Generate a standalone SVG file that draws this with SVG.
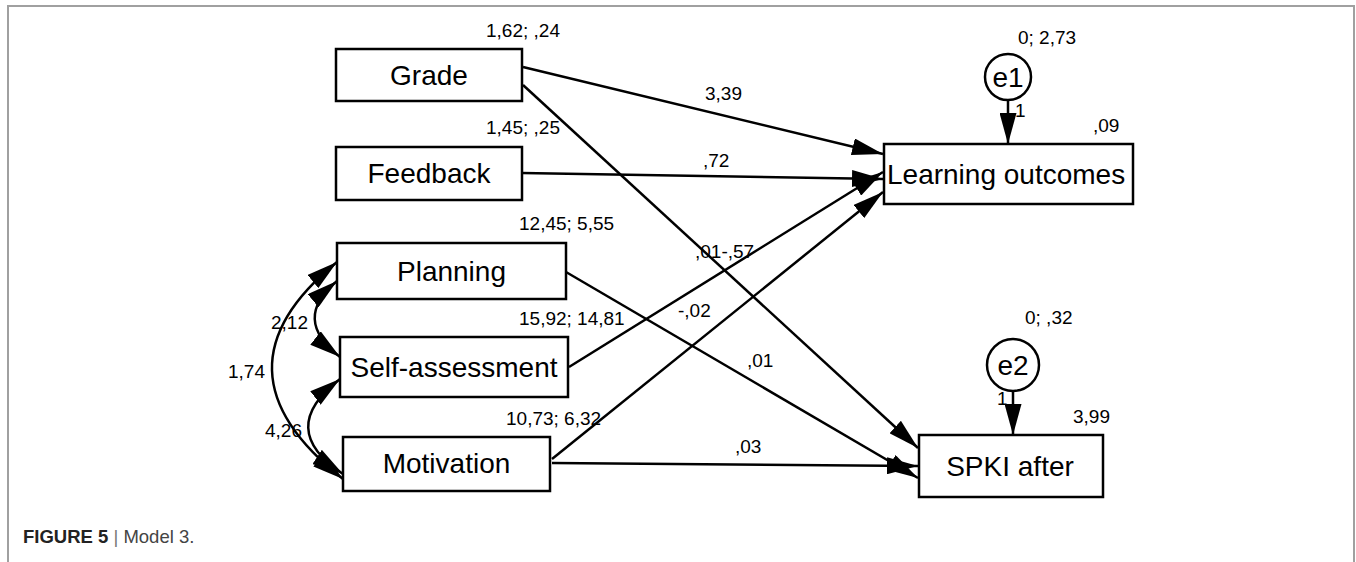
<svg xmlns="http://www.w3.org/2000/svg" width="1356" height="562" viewBox="0 0 1356 562">
<style>
.box{fill:#fff;stroke:#000;stroke-width:2.5}
.circ{fill:#fff;stroke:#000;stroke-width:2.5}
.nt{font-family:"Liberation Sans",Arial,sans-serif;font-size:28px;fill:#000}
.lb{font-family:"Liberation Sans",Arial,sans-serif;font-size:19px;fill:#000}
.ln{fill:none;stroke:#000;stroke-width:2.5}
.cap{font-family:"Liberation Sans",Arial,sans-serif;font-size:18.5px;fill:#222}
</style>
<defs>
<marker id="ah" markerUnits="userSpaceOnUse" markerWidth="31" markerHeight="17" refX="31" refY="8.5" orient="auto-start-reverse" viewBox="0 0 31 17">
<path d="M0,0 L31,8.5 L0,17 z" fill="#000"/>
</marker>
</defs>
<rect x="0" y="0" width="1356" height="562" fill="#fff"/>
<rect x="8" y="6" width="1346" height="600" fill="none" stroke="#a0a0a0" stroke-width="2"/>

<g id="connectors">
<line class="ln" x1="523" y1="67" x2="883" y2="154" marker-end="url(#ah)"/>
<line class="ln" x1="523" y1="85" x2="918" y2="448" marker-end="url(#ah)"/>
<line class="ln" x1="522" y1="173" x2="883" y2="179" marker-end="url(#ah)"/>
<line class="ln" x1="569" y1="367" x2="883" y2="172" marker-end="url(#ah)"/>
<line class="ln" x1="552" y1="459" x2="883" y2="192" marker-end="url(#ah)"/>
<line class="ln" x1="566" y1="272" x2="918" y2="478" marker-end="url(#ah)"/>
<line class="ln" x1="552" y1="463" x2="918" y2="466" marker-end="url(#ah)"/>
<line class="ln" x1="1008" y1="100" x2="1008" y2="144" marker-end="url(#ah)"/>
<line class="ln" x1="1013" y1="390" x2="1013" y2="435" marker-end="url(#ah)"/>
<path class="ln" d="M337,281 Q291,319 340,357" marker-start="url(#ah)" marker-end="url(#ah)"/>
<path class="ln" d="M337,262 Q204,370 343,479" marker-start="url(#ah)" marker-end="url(#ah)"/>
<path class="ln" d="M340,379 Q275,429 343,474" marker-start="url(#ah)" marker-end="url(#ah)"/>
</g>

<g id="labels">
<text class="lb" x="486" y="37">1,62; ,24</text>
<text class="lb" x="486" y="134">1,45; ,25</text>
<text class="lb" x="519" y="230">12,45; 5,55</text>
<text class="lb" x="519" y="325">15,92; 14,81</text>
<text class="lb" x="506" y="425">10,73; 6,32</text>
<text class="lb" x="705" y="100">3,39</text>
<text class="lb" x="703" y="167">,72</text>
<text class="lb" x="695" y="258">,01-,57</text>
<text class="lb" x="678" y="317">-,02</text>
<text class="lb" x="747" y="367">,01</text>
<text class="lb" x="735" y="453">,03</text>
<text class="lb" x="271" y="329">2,12</text>
<text class="lb" x="228" y="378">1,74</text>
<text class="lb" x="265" y="437">4,26</text>
<text class="lb" x="1018" y="44">0; 2,73</text>
<text class="lb" x="1015" y="117">1</text>
<text class="lb" x="1093" y="132">,09</text>
<text class="lb" x="1025" y="324">0; ,32</text>
<text class="lb" x="997" y="405">1</text>
<text class="lb" x="1073" y="423">3,99</text>
</g>

<g id="grade"><rect class="box" x="336" y="49" width="186" height="52"/><text class="nt" x="429" y="85" text-anchor="middle">Grade</text></g>
<g id="feedback"><rect class="box" x="336" y="147" width="186" height="53"/><text class="nt" x="429" y="183" text-anchor="middle">Feedback</text></g>
<g id="planning"><rect class="box" x="337" y="243" width="229" height="56"/><text class="nt" x="451.5" y="281" text-anchor="middle">Planning</text></g>
<g id="self-assessment"><rect class="box" x="340" y="337" width="228" height="60"/><text class="nt" x="454" y="377" text-anchor="middle">Self-assessment</text></g>
<g id="motivation"><rect class="box" x="343" y="437" width="207" height="54"/><text class="nt" x="446.5" y="473" text-anchor="middle">Motivation</text></g>
<g id="learning-outcomes"><rect class="box" x="884" y="144" width="249" height="60"/><text class="nt" x="887" y="184">Learning outcomes</text></g>
<g id="spki-after"><rect class="box" x="919" y="435" width="184" height="62"/><text class="nt" x="1010" y="476" text-anchor="middle">SPKI after</text></g>
<g id="e1"><circle class="circ" cx="1008" cy="77" r="23"/><text class="nt" x="1008" y="87" text-anchor="middle">e1</text></g>
<g id="e2"><circle class="circ" cx="1013" cy="365" r="26"/><text class="nt" x="1013" y="375" text-anchor="middle">e2</text></g>

<g id="caption">
<text class="cap" x="23" y="543"><tspan font-weight="bold" fill="#222">FIGURE 5</tspan><tspan fill="#777"> | </tspan><tspan fill="#444">Model 3.</tspan></text>
</g>
</svg>
